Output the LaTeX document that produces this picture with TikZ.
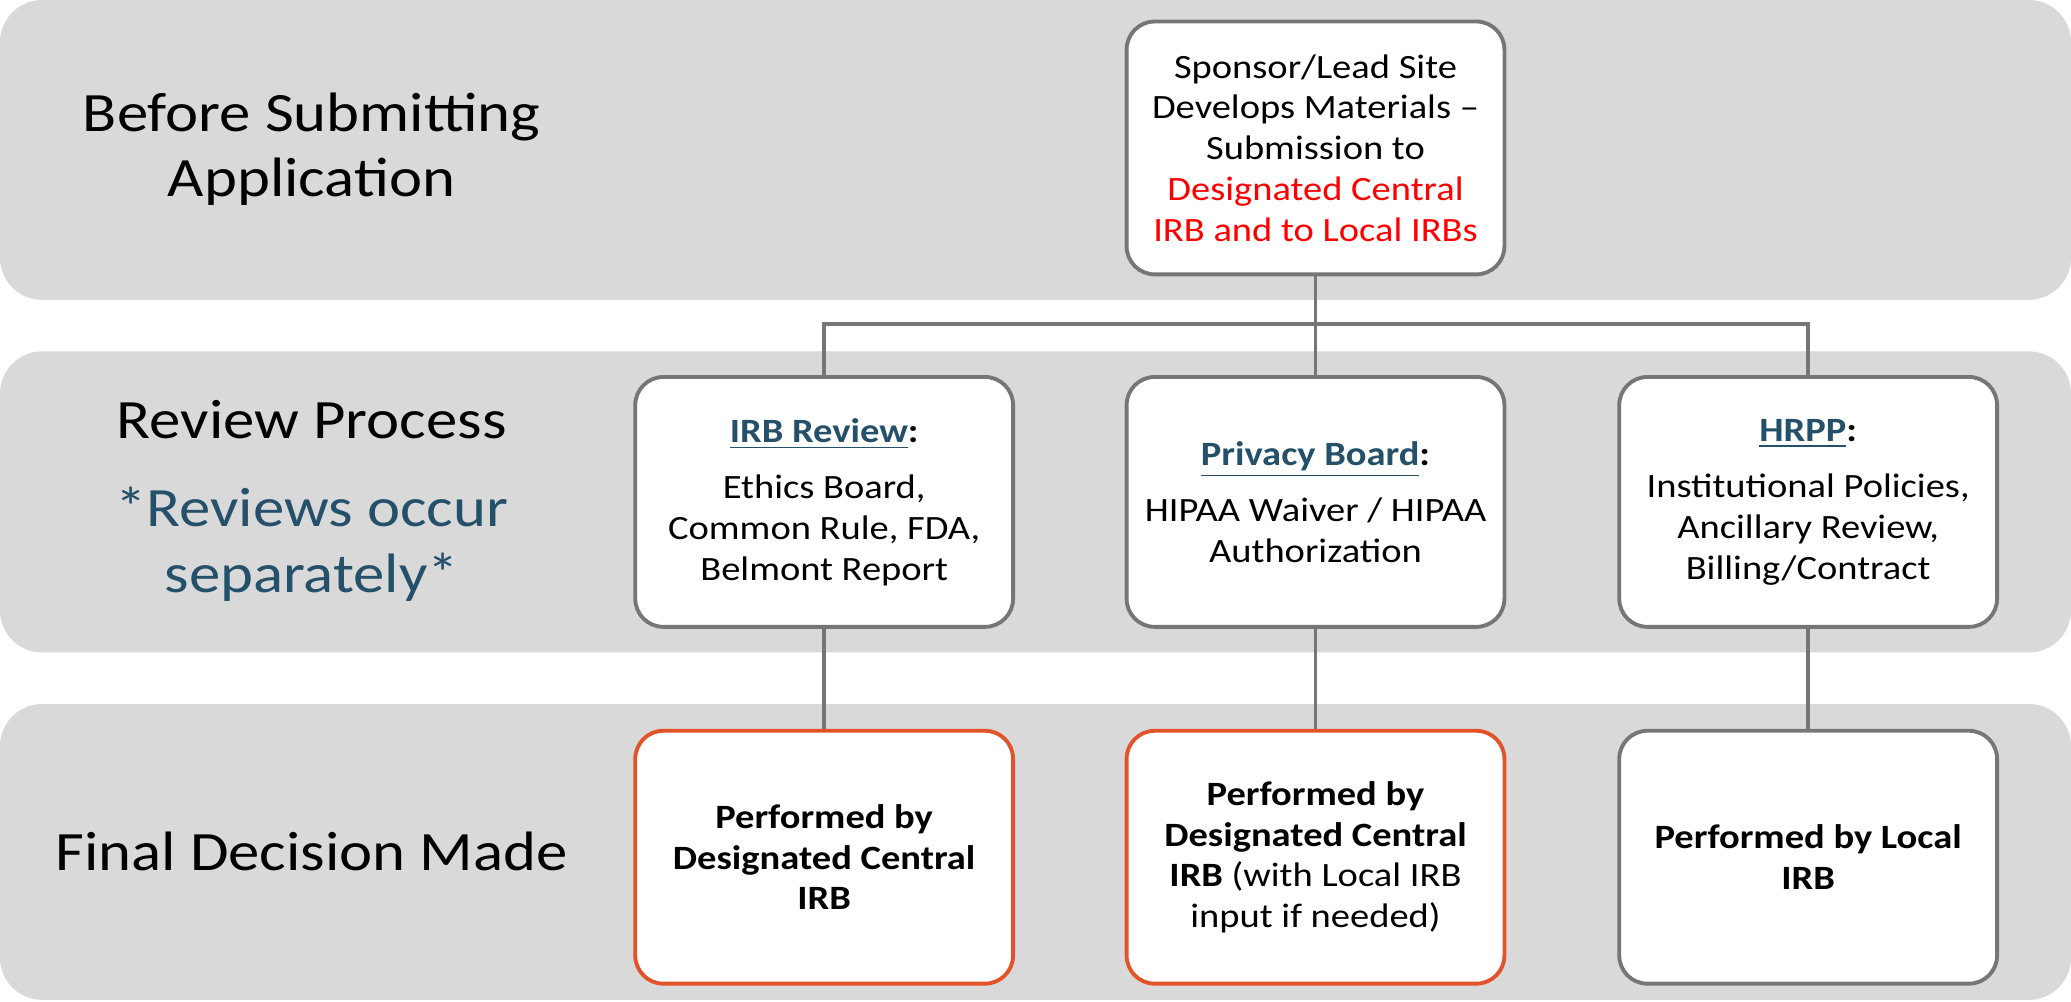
\documentclass[tikz,border=0pt]{standalone}
\usepackage{fontspec}
\setmainfont{Carlito}[FakeStretch=1.13]
\usetikzlibrary{positioning}
\definecolor{bandgray}{HTML}{D9D9D9}
\definecolor{boxedge}{HTML}{767676}
\definecolor{decision}{HTML}{E2532A}
\definecolor{slateblue}{HTML}{24506A}
\definecolor{alertred}{HTML}{FF0000}
\begin{document}
\begin{tikzpicture}[x=0.013208cm, y=-0.013208cm,
  band/.style={fill=bandgray, draw=none, rounded corners=12pt},
  phase/.style={align=center, font=\fontsize{15.8}{18.7}\selectfont, text=black},
  card/.style={draw=boxedge, line width=1.1pt, fill=white, rounded corners=8pt,
    minimum width=3.78cm, minimum height=2.5cm, align=center, inner sep=2pt,
    font=\fontsize{9.7}{11.6}\selectfont},
  keycard/.style={card, draw=decision},
  link/.style={draw=boxedge, line width=1.1pt}
]
% canvas
\useasboundingbox (0,0) rectangle (1568,758);
\fill[white] (0,0) rectangle (1568,758);

% phase bands
\path[band] (0,0) rectangle (1568,227);
\path[band] (0,266) rectangle (1568,494);
\path[band] (0,533) rectangle (1568,757);

% phase labels
\node[phase] (lab1) at (236,113) {Before Submitting\\Application};
\node[phase] (lab2) at (236,318) {Review Process};
\node[phase, text=slateblue] (lab2b) at (236,412) {*Reviews occur\\separately*};
\node[phase] (lab3) at (236,645) {Final Decision Made};

% submission
\node[card, minimum height=2.53cm] (sub) at (996,112) {Sponsor/Lead Site\\Develops Materials --\\Submission to\\
  \textcolor{alertred}{Designated Central}\\\textcolor{alertred}{IRB and to Local IRBs}};

% reviews
\node[card] (irb) at (624,380) {\textbf{\textcolor{slateblue}{\underline{IRB Review}}}\textbf{:}\\[4.5pt]
  Ethics Board,\\Common Rule, FDA,\\Belmont Report};
\node[card] (priv) at (996,380) {\textbf{\textcolor{slateblue}{\underline{Privacy Board}}}\textbf{:}\\[4.5pt]
  HIPAA Waiver / HIPAA\\Authorization};
\node[card] (hrpp) at (1369,380) {\textbf{\textcolor{slateblue}{\underline{HRPP}}}\textbf{:}\\[4.5pt]
  Institutional Policies,\\Ancillary Review,\\Billing/Contract};

% decisions
\node[keycard, minimum height=2.53cm] (dirb) at (624,649) {\textbf{Performed by}\\\textbf{Designated Central}\\\textbf{IRB}};
\node[keycard, minimum height=2.53cm] (dpriv) at (996,649) {\textbf{Performed by}\\\textbf{Designated Central}\\\textbf{IRB} (with Local IRB\\input if needed)};
\node[card, minimum height=2.53cm] (dhrpp) at (1369,649) {\textbf{Performed by Local}\\\textbf{IRB}};

% connectors
\coordinate (split) at (996,245);
\draw[link] (sub.south) -- (split);
\draw[link] (split) -| (irb.north);
\draw[link] (split) -- (priv.north);
\draw[link] (split) -| (hrpp.north);
\draw[link] (irb.south) -- (dirb.north);
\draw[link] (priv.south) -- (dpriv.north);
\draw[link] (hrpp.south) -- (dhrpp.north);
\end{tikzpicture}
\end{document}
